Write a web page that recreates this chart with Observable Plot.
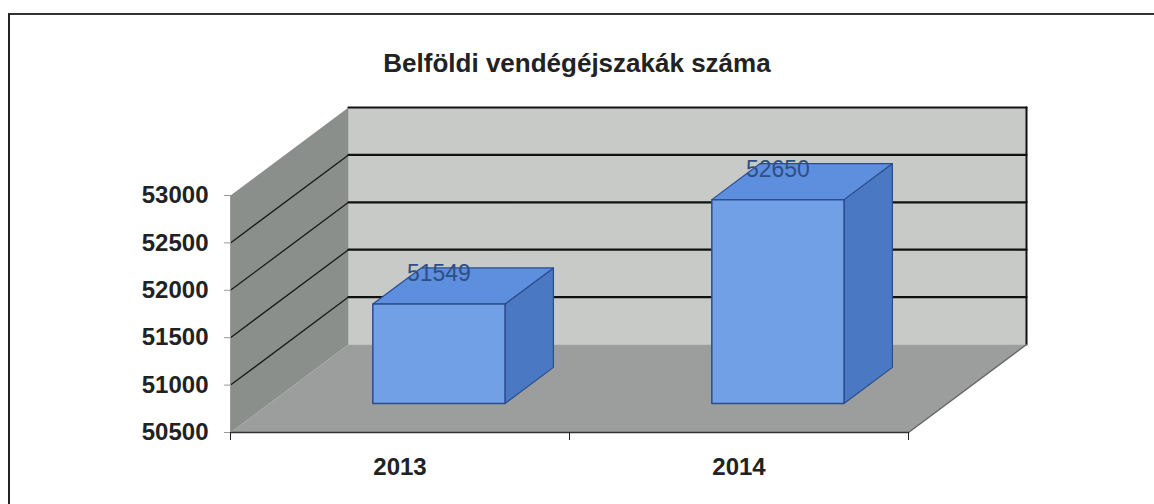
<!DOCTYPE html>
<html>
<head>
<meta charset="utf-8">
<script src="https://cdn.jsdelivr.net/npm/d3@7"></script>
<script src="https://cdn.jsdelivr.net/npm/@observablehq/plot@0.6"></script>
<style>
  html, body { margin: 0; padding: 0; background: #fff; overflow: hidden; }
  #wrap { position: relative; width: 1154px; height: 504px; overflow: hidden; }
  #frame { position: absolute; left: 8px; top: 13px; width: 1200px; height: 600px;
           border-left: 2px solid #222; border-top: 2px solid #333; }
  #title { position: absolute; left: 0; width: 1154px; top: 48px; text-align: center;
           font: bold 26px "Liberation Sans", Arial, sans-serif; color: #222; }
  #chart { position: absolute; left: 0; top: 0; }
</style>
</head>
<body>
<div id="wrap">
  <div id="frame"></div>
  <div id="chart"></div>
  <div id="title"></div>
</div>
<script>
// ---- data ----
const titleText = "Belföldi vendégéjszakák száma";
const years = ["2013", "2014"];
const values = [51549, 52650];
const yTicks = [50500, 51000, 51500, 52000, 52500, 53000];
const yDomain = [50500, 53000];

document.getElementById("title").textContent = titleText;

// ---- oblique projection (category units, value units, depth 0..1) ----
const W = 1154, H = 504;
const mL = 230, mR = 246, mT = 195, mB = 72;
const pxPerCat = (W - mL - mR) / years.length;
const pxPerVal = (H - mT - mB) / (yDomain[1] - yDomain[0]);
const DX = 118 / pxPerCat;          // full depth shift in category units
const DY = 88 / pxPerVal;           // full depth shift in value units
const P = (c, v, d, id) => ({x: c + d * DX, y: v + d * DY, id});
const vBase = yDomain[0], vTop = yDomain[1], nC = years.length;

const backWall = [P(0, vBase, 1, "b"), P(nC, vBase, 1, "b"), P(nC, vTop, 1, "b"), P(0, vTop, 1, "b")];
const sideWall = [P(0, vBase, 0, "s"), P(0, vBase, 1, "s"), P(0, vTop, 1, "s"), P(0, vTop, 0, "s")];
const floorFace = [P(0, vBase, 0, "f"), P(nC, vBase, 0, "f"), P(nC, vBase, 1, "f"), P(0, vBase, 1, "f")];

const gridBack = yTicks.slice(1).flatMap(v => [P(0, v, 1, v), P(nC, v, 1, v)]);
const gridSide = yTicks.slice(1, -1).flatMap(v => [P(0, v, 0, v), P(0, v, 1, v)]);

const hw = 0.195, d0 = 0.33, d1 = 0.74;
const fronts = [], tops = [], sides = [], labels = [];
values.forEach((v, i) => {
  const c = i + 0.5, x0 = c - hw, x1 = c + hw;
  fronts.push(P(x0, vBase, d0, i), P(x1, vBase, d0, i), P(x1, v, d0, i), P(x0, v, d0, i));
  tops.push(P(x0, v, d0, i), P(x1, v, d0, i), P(x1, v, d1, i), P(x0, v, d1, i));
  sides.push(P(x1, vBase, d0, i), P(x1, vBase, d1, i), P(x1, v, d1, i), P(x1, v, d0, i));
  labels.push({...P(c, v, d0, i), text: String(v)});
});

const poly = (data, fill, stroke, sw = 1) =>
  Plot.line(data, {x: "x", y: "y", z: "id", fill, stroke, strokeWidth: sw, curve: "linear-closed"});
const seg = (data, stroke, sw) =>
  Plot.line(data, {x: "x", y: "y", z: "id", stroke, strokeWidth: sw});

const chart = Plot.plot({
  width: W, height: H,
  marginLeft: mL, marginRight: mR, marginTop: mT, marginBottom: mB,
  x: {type: "linear", domain: [0, nC], label: null},
  y: {type: "linear", domain: yDomain, label: null},
  style: {background: "transparent", fontFamily: "'Liberation Sans', Arial, sans-serif"},
  marks: [
    poly(backWall, "#c8cac8", "none"),
    poly(floorFace, "#9b9e9c", "none"),
    poly(sideWall, "#8b8f8c", "none"),
    seg(gridSide, "#1a1a1a", 1.3),
    seg(gridBack, "#111", 2.2),
    seg([P(nC, vBase, 1, "r"), P(nC, vTop, 1, "r")], "#111", 2),
    seg([P(nC, vBase, 0, "e"), P(nC, vBase, 1, "e")], "#666", 1.5),
    seg([P(0, vBase, 0, "fe"), P(nC, vBase, 0, "fe")], "#333", 1.5),
    seg([P(0, vBase, 0, "ax"), P(0, vTop, 0, "ax")], "#9a9a9a", 1),
    poly(sides, "#4a78c3", "#2b4d8c", 1.2),
    poly(tops, "#5e8ede", "#2b4d8c", 1.2),
    poly(fronts, "#72a0e6", "#2b4d8c", 1.5),
    Plot.text(labels, {x: "x", y: "y", text: "text", dy: -30, fontSize: 23, fill: "#2f4f84"}),
    Plot.axisY(yTicks, {tickSize: 6, tickPadding: 16, stroke: "#999", fill: "#222",
      fontSize: 24, fontWeight: "bold", label: null, tickFormat: d => String(d)}),
    Plot.axisX([0, 1, 2], {tickSize: 8, stroke: "#222", tickFormat: () => "", label: null}),
    Plot.axisX(years.map((_, i) => i + 0.5), {tickSize: 0, tickPadding: 25, fill: "#222",
      fontSize: 24, fontWeight: "bold", label: null, tickFormat: d => years[Math.floor(d)]})
  ]
});
document.getElementById("chart").appendChild(chart);
</script>
</body>
</html>
